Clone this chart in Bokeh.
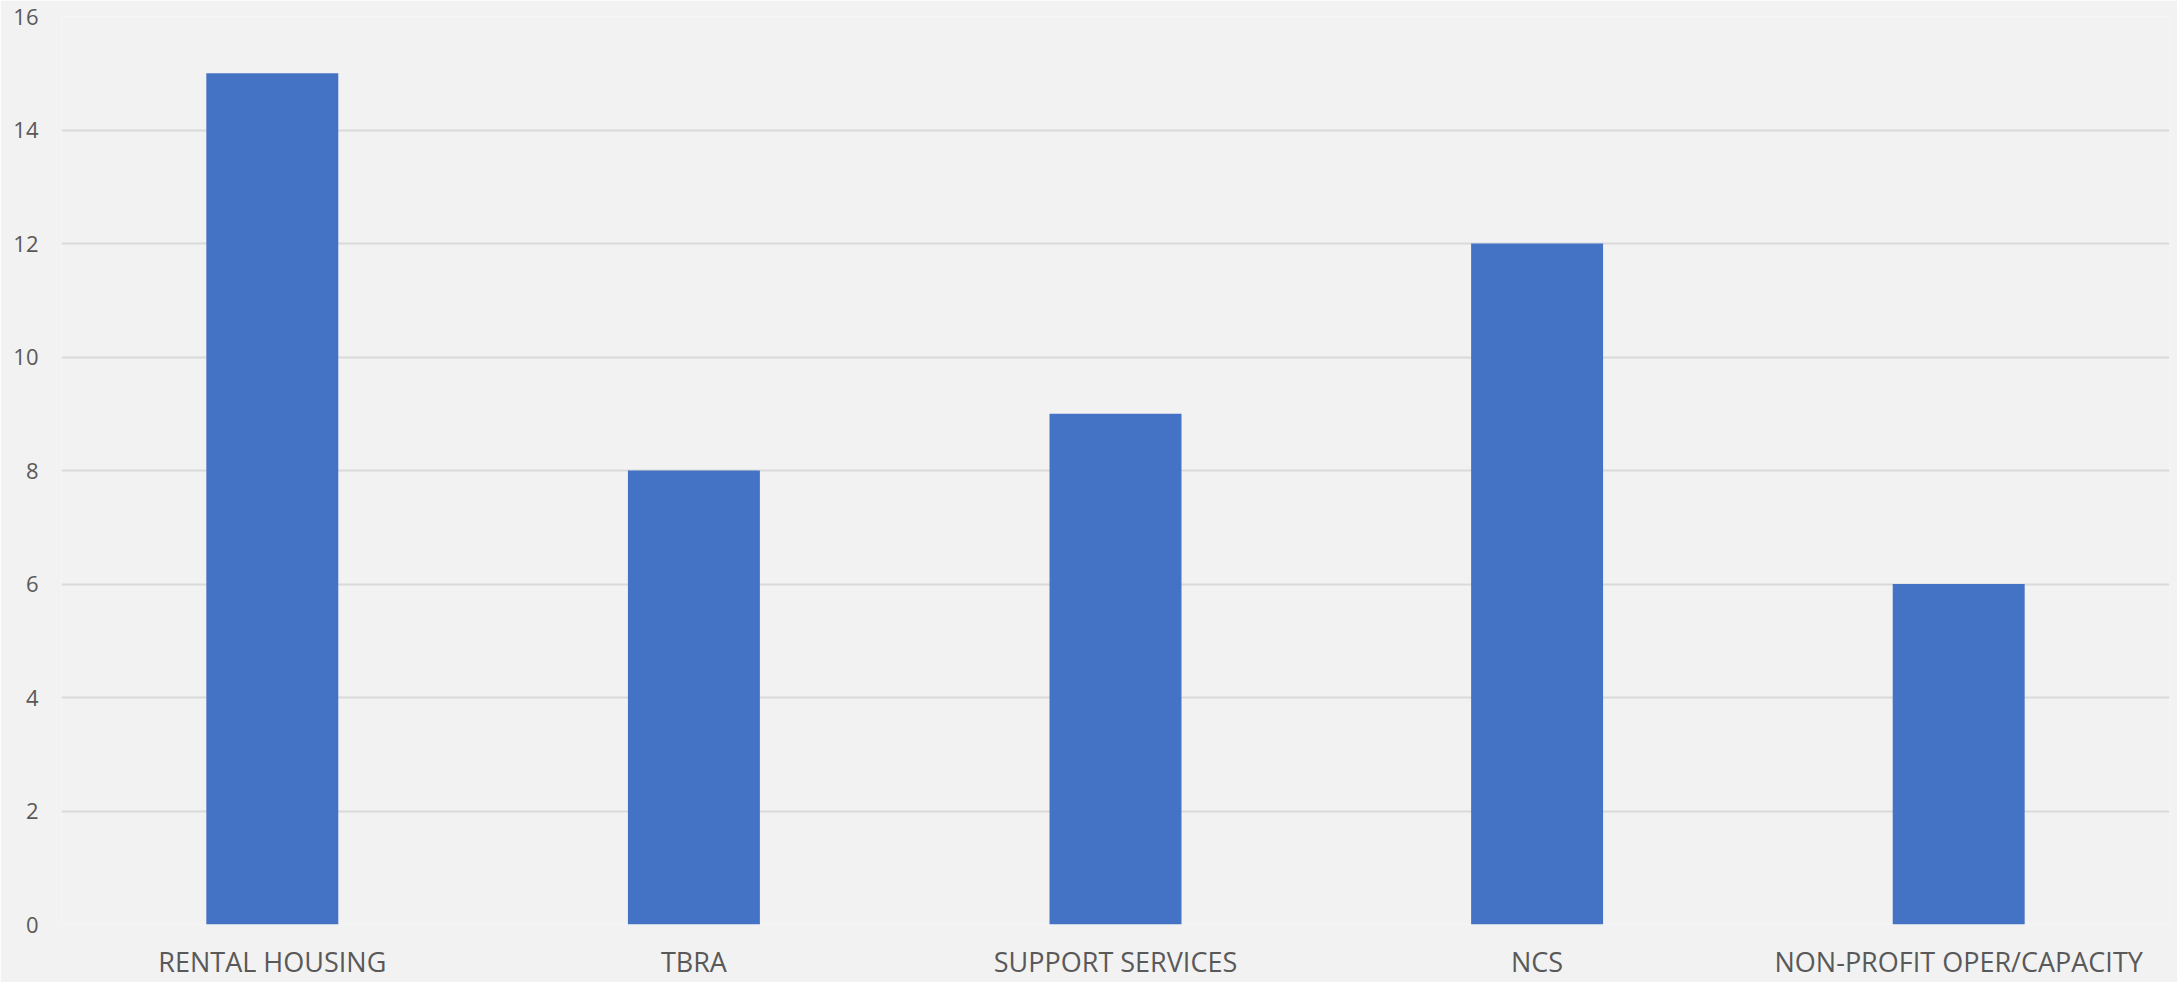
from bokeh.plotting import figure
from bokeh.models import Range1d, FactorRange, ColumnDataSource, FixedTicker
from bokeh.embed import file_html
from bokeh.resources import INLINE

categories = ["RENTAL HOUSING", "TBRA", "SUPPORT SERVICES", "NCS", "NON-PROFIT OPER/CAPACITY"]
values = [15, 8, 9, 12, 6]
y_ticks = [0, 2, 4, 6, 8, 10, 12, 14, 16]

BG = "#f2f2f2"
TXT = "#595959"

src = ColumnDataSource(dict(cat=categories, val=values))

p = figure(width=2177, height=982, output_backend="svg", toolbar_location=None,
           x_range=FactorRange(*categories, range_padding=0), y_range=Range1d(0, 16),
           min_border_left=61, min_border_right=8, min_border_top=16, min_border_bottom=55)
p.background_fill_color = BG
p.border_fill_color = BG
p.outline_line_color = None

p.vbar(x="cat", top="val", width=0.313, source=src, fill_color="#4472c4", line_color=None)

p.xgrid.grid_line_color = None
p.ygrid.grid_line_color = "#d9d9d9"
p.ygrid.grid_line_width = 2
p.yaxis.ticker = FixedTicker(ticks=y_ticks)

for ax in (p.xaxis, p.yaxis):
    ax.axis_line_color = None
    ax.major_tick_line_color = None
    ax.minor_tick_line_color = None
    ax.major_tick_in = 0
    ax.major_tick_out = 0
    ax.major_label_text_color = TXT
    ax.major_label_text_font = "Open Sans"

p.yaxis.major_label_text_font_size = "22px"
p.yaxis.major_label_standoff = 23
p.xaxis.major_label_text_font_size = "27px"
p.xaxis.major_label_standoff = 18

open("out.html", "w").write(file_html(p, INLINE))
